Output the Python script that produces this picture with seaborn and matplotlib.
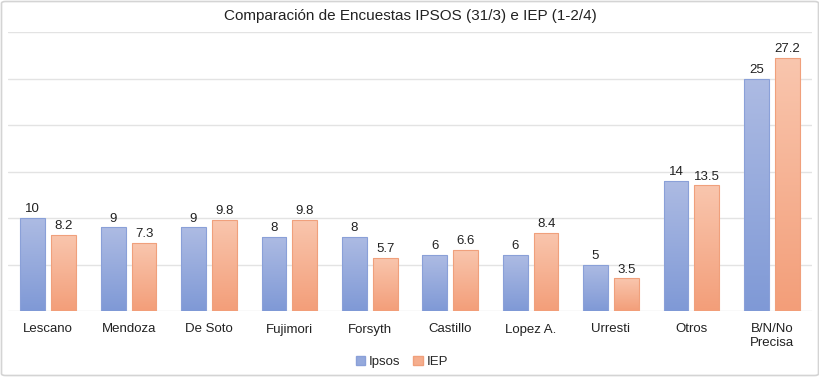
import matplotlib
matplotlib.use("Agg")
import matplotlib.pyplot as plt
import seaborn as sns
import pandas as pd
import numpy as np
from matplotlib.colors import LinearSegmentedColormap
from matplotlib.patches import FancyBboxPatch, Patch

categories = ["Lescano", "Mendoza", "De Soto", "Fujimori", "Forsyth", "Castillo",
              "Lopez A.", "Urresti", "Otros", "B/N/No\nPrecisa"]
ipsos = [10, 9, 9, 8, 8, 6, 6, 5, 14, 25]
iep = [8.2, 7.3, 9.8, 9.8, 5.7, 6.6, 8.4, 3.5, 13.5, 27.2]
series_names = ["Ipsos", "IEP"]
title = "Comparación de Encuestas IPSOS (31/3) e IEP (1-2/4)"

sns.set_theme(style="white")
plt.rcParams['font.family'] = ['Liberation Sans', 'DejaVu Sans']

df = pd.DataFrame({
    "cat": categories * 2,
    "val": ipsos + iep,
    "serie": [series_names[0]] * len(categories) + [series_names[1]] * len(categories),
})

fig = plt.figure(figsize=(8.2, 3.77), dpi=100)
ax = fig.add_axes([8/820, 1 - 311/377, 804/820, (311 - 32)/377])

base_cols = {"Ipsos": "#95a9dc", "IEP": "#f5ae8e"}
sns.barplot(data=df, x="cat", y="val", hue="serie", palette=base_cols,
            width=0.77, gap=0.2, ax=ax, legend=False, saturation=1)

ax.set_ylim(0, 30)
ax.set_yticks(np.arange(0, 31, 5))
ax.yaxis.grid(True, color="#e3e3e3", linewidth=1)
ax.set_axisbelow(True)
ax.set_yticklabels([])
ax.tick_params(axis="y", length=0)
ax.tick_params(axis="x", length=0, pad=9, labelsize=9.5, colors="#222222")
for s in ax.spines.values():
    s.set_visible(False)
ax.set_xlabel("")
ax.set_ylabel("")
ax.set_xlim(-0.5, len(categories) - 0.5)

grads = {
    "Ipsos": (("#adbbe3", "#7f99d6"), "#8aa0d8"),
    "IEP": (("#f9c6ae", "#f39e79"), "#f0a07c"),
}
nc = len(categories)
patches = [p for p in ax.patches if p.get_height() > 0]
for i, p in enumerate(patches):
    serie = "Ipsos" if i < nc else "IEP"
    (ctop, cbot), edge = grads[serie]
    cmap = LinearSegmentedColormap.from_list("g", [cbot, ctop])
    x0, y0 = p.get_x(), p.get_y()
    w, h = p.get_width(), p.get_height()
    grad = np.linspace(0, 1, 256).reshape(-1, 1)
    im = ax.imshow(grad, cmap=cmap, origin="lower", aspect="auto",
                   extent=[x0, x0 + w, y0, y0 + h], zorder=2)
    im.set_clip_path(p)
    p.set_facecolor("none")
    p.set_edgecolor(edge)
    p.set_linewidth(0.8)
    p.set_zorder(3)

ax.set_xlim(-0.5, len(categories) - 0.5)
ax.set_ylim(0, 30)

for c in ax.containers:
    labels = [("%g" % v) for v in c.datavalues]
    ax.bar_label(c, labels=labels, padding=2, fontsize=9.5, color="#222222")

fig.suptitle(title, y=1 - 16/377, va="center", fontsize=11, color="#222222")

handles = [Patch(facecolor="#95a9dc", edgecolor="#8aa0d8"),
           Patch(facecolor="#f5ae8e", edgecolor="#f0a07c")]
fig.legend(handles, series_names, loc="center", bbox_to_anchor=(0.49, 1 - 362/377),
           ncol=2, frameon=False, fontsize=9.5, handlelength=0.7, handleheight=0.7,
           handletextpad=0.3, columnspacing=1.0)

border = FancyBboxPatch((1.5/820, 1.5/377), 1 - 3/820, 1 - 3/377,
                        boxstyle="round,pad=0,rounding_size=0.005",
                        transform=fig.transFigure, fill=False,
                        edgecolor="#d4d4d4", linewidth=1.2)
fig.patches.append(border)

fig.savefig("out.png", dpi=100)
